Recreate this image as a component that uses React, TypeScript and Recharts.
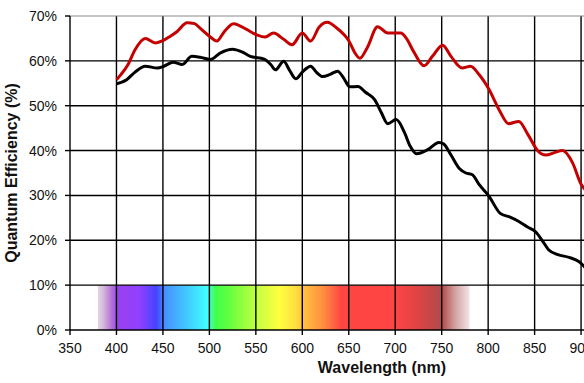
import { LineChart, Line, XAxis, YAxis, ReferenceArea, ReferenceLine, Label } from 'recharts';

// wavelength (nm) / quantum efficiency (%)
const redNm = [400, 405, 412, 420, 431, 442, 450, 458, 465, 476, 484, 490, 500, 508, 516, 526, 540, 551, 560, 569, 580, 589, 600, 609, 618, 627, 636, 645, 650, 656, 662, 670, 681, 692, 706, 712, 720, 731, 740, 751, 760, 772, 781, 790, 801, 812, 822, 833, 843, 854, 862, 872, 880, 891, 900, 905];
const redQe = [55.8, 57, 59, 62.5, 65, 64, 64.5, 65.5, 66.5, 68.5, 68.3, 67.3, 65.5, 64.4, 66.5, 68.3, 67, 65.8, 65.3, 66.2, 64.8, 63.6, 66.2, 64.4, 67.5, 68.6, 67.5, 65.8, 64.5, 62, 60.6, 63, 67.6, 66.2, 66.2, 65, 62, 58.9, 61, 63.5, 61, 58.4, 58.8, 57, 53.6, 49, 46, 46.5, 43.5, 39.8, 39, 39.6, 40, 37.2, 32.5, 31.2];

const blackNm = [400, 411, 420, 431, 444, 451, 461, 471, 481, 490, 501, 512, 525, 535, 544, 559, 566, 571, 580, 586, 593, 600, 609, 615, 622, 630, 638, 645, 651, 660, 668, 678, 685, 692, 701, 710, 716, 723, 735, 747, 752, 760, 769, 776, 783, 790, 801, 813, 823, 833, 842, 851, 858, 865, 875, 887, 898, 905];
const blackQe = [54.9, 55.8, 57.5, 58.8, 58.4, 58.8, 59.7, 59.2, 61, 60.8, 60.3, 61.8, 62.6, 62, 61, 60.4, 59.2, 58, 59.9, 58, 56, 57.5, 58.8, 57.5, 56.5, 57, 57.7, 56, 54.2, 54.3, 53, 51.3, 48.5, 46, 46.9, 44, 41, 39.3, 40.2, 41.8, 41.5, 39, 36, 35, 34.6, 32.5, 29.8, 26, 25.2, 24.2, 23, 21.9, 20, 17.9, 16.8, 16.2, 15.2, 13.8];

const xTicks = [350, 400, 450, 500, 550, 600, 650, 700, 750, 800, 850, 900, 950, 1000];
const yTicks = [0, 10, 20, 30, 40, 50, 60, 70];

// visible spectrum strip
const spectrumFrom = 380;
const spectrumTo = 780;
const spectrumNm = [380, 386, 395, 402, 425, 443, 452, 480, 498, 506, 520, 550, 575, 592, 602, 622, 642, 700, 728, 750, 765, 780];
const spectrumColor = ['#e4d6e4', '#d6b8da', '#b070d8', '#9a40f0', '#9040ff', '#4444ff', '#4890ff', '#40d4ff', '#40ffff', '#40ff50', '#60ff40', '#c0ff40', '#ffff40', '#ffe040', '#ffc040', '#ff9040', '#ff4444', '#ff4444', '#d84444', '#b04a4a', '#d4a4a4', '#f2e6e6'];

const redData = redNm.map((nm, i) => ({ nm, qe: redQe[i] }));
const blackData = blackNm.map((nm, i) => ({ nm, qe: blackQe[i] }));

const font = '"Liberation Sans", Arial, sans-serif';

export default function App() {
  return (
    <div style={{ position: 'fixed', left: 0, top: 0, width: 584, height: 383, overflow: 'hidden', background: '#fff' }}>
      <LineChart width={684} height={383} margin={{ top: 16, right: 10, left: 0, bottom: 0 }}>
        <defs>
          <linearGradient id="spectrum" x1="0" y1="0" x2="1" y2="0">
            {spectrumNm.map((nm, i) => (
              <stop key={nm} offset={(nm - spectrumFrom) / (spectrumTo - spectrumFrom)} stopColor={spectrumColor[i]} />
            ))}
          </linearGradient>
        </defs>
        <XAxis
          type="number"
          dataKey="nm"
          domain={[350, 1000]}
          ticks={xTicks}
          interval={0}
          height={53}
          tickSize={5}
          tickMargin={8}
          stroke="#000"
          strokeWidth={1.4}
          tick={{ fill: '#111', fontSize: 14, fontFamily: font }}
        >
          <Label
            content={({ viewBox }: any) => (
              <text
                x={viewBox.x + viewBox.width / 2 + 10}
                y={viewBox.y + 43}
                textAnchor="middle"
                fontFamily={font}
                fontSize={16}
                fontWeight="bold"
                fill="#111"
              >
                Wavelength (nm)
              </text>
            )}
          />
        </XAxis>
        <YAxis
          type="number"
          domain={[0, 70]}
          ticks={yTicks}
          interval={0}
          width={70}
          tickSize={5}
          tickMargin={8}
          stroke="#000"
          strokeWidth={1.4}
          tickFormatter={(v: number) => `${v}%`}
          tick={{ fill: '#111', fontSize: 14, fontFamily: font }}
        >
          <Label
            content={({ viewBox }: any) => {
              const cx = 17;
              const cy = viewBox.y + viewBox.height / 2;
              return (
                <text
                  x={cx}
                  y={cy}
                  transform={`rotate(-90 ${cx} ${cy})`}
                  textAnchor="middle"
                  fontFamily={font}
                  fontSize={16}
                  fontWeight="bold"
                  fill="#111"
                >
                  Quantum Efficiency (%)
                </text>
              );
            }}
          />
        </YAxis>
        <ReferenceArea x1={spectrumFrom} x2={spectrumTo} y1={0} y2={10} fill="url(#spectrum)" fillOpacity={1} stroke="none" />
        {xTicks.slice(1).map((t) => (
          <ReferenceLine key={`vx${t}`} x={t} stroke="#000" strokeWidth={1.4} />
        ))}
        {yTicks.slice(1).map((t) => (
          <ReferenceLine key={`hy${t}`} y={t} stroke={t === 70 ? '#8a8a8a' : '#000'} strokeWidth={t === 70 ? 1.2 : 1.4} />
        ))}
        <Line data={blackData} dataKey="qe" type="monotone" stroke="#000" strokeWidth={3} dot={false} isAnimationActive={false} />
        <Line data={redData} dataKey="qe" type="monotone" stroke="#c40000" strokeWidth={3} dot={false} isAnimationActive={false} />
      </LineChart>
    </div>
  );
}
